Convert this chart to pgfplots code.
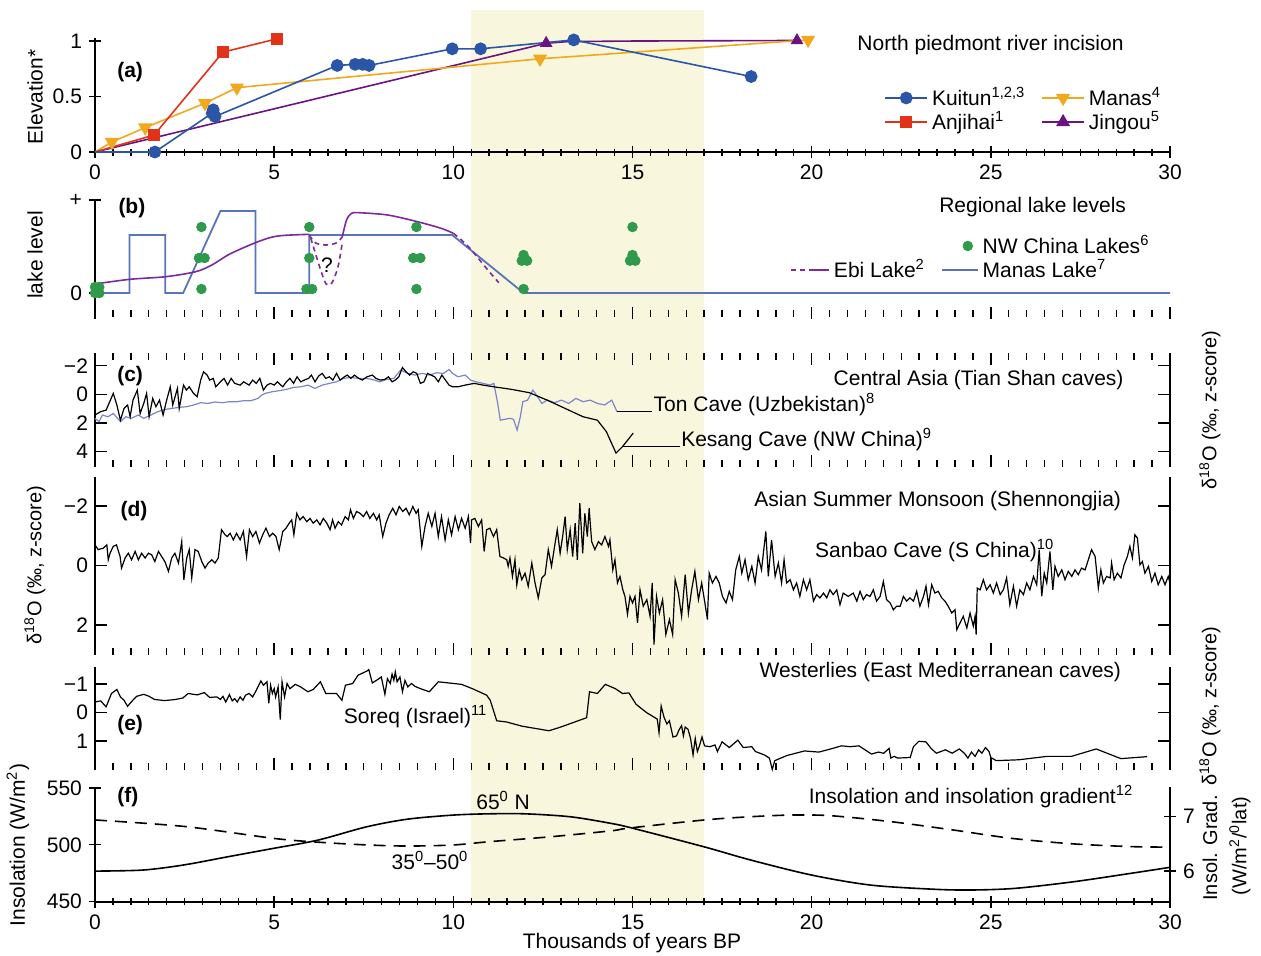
\documentclass[border=0pt]{standalone}
\usepackage{fontspec}
\setmainfont{Liberation Sans}
\usepackage{pgfplots}
\pgfplotsset{compat=1.18}
\definecolor{kuitun}{HTML}{2B56A8}
\definecolor{anjihai}{HTML}{E2321A}
\definecolor{manas}{HTML}{F2A81D}
\definecolor{jingou}{HTML}{6A1381}
\definecolor{manaslake}{HTML}{5874BD}
\definecolor{ebi}{HTML}{7B2B9D}
\definecolor{nwgreen}{HTML}{2F9A4C}
\definecolor{ton}{HTML}{7A86C9}
\definecolor{shade}{HTML}{F8F7DD}
\newcommand{\lab}{\fontsize{10.5}{12}\selectfont}
\newcommand{\rlab}{\fontsize{10}{12}\selectfont}
\pgfplotsset{
  panel/.style={
    scale only axis, width=537.5pt, xmin=0, xmax=30, clip=false, anchor=south west,
    axis line style={line width=0.9pt,-},
    tick align=inside, major tick length=6pt, minor tick length=3.5pt,
    tick style={line width=0.7pt, black},
    xtick={0,5,...,30}, minor x tick num=9,
    ticklabel style={font=\lab},
    /pgf/number format/assume math mode=true,
  },
  noarrows/.style={
    every outer x axis line/.append style={-}, every outer y axis line/.append style={-},
    every inner x axis line/.append style={-}, every inner y axis line/.append style={-}},
  boxpanel/.style={panel, separate axis lines, x axis line style={draw=none},
    ytick pos=both, yticklabel pos=left, xticklabels={}, y dir=reverse},
  dotlegend/.style={legend image code/.code={\draw[##1] plot coordinates {(13pt,0pt)};}},
  ebilegend/.style={legend image code/.code={\draw[##1, dash pattern=on 2.5pt off 2pt] (0pt,0pt) -- (10pt,0pt); \draw[##1] (10pt,0pt) -- (19pt,0pt);}},
}
\begin{document}
\begin{tikzpicture}
\useasboundingbox (0,0) rectangle (630.5pt,-477.5pt);
% background band
\begin{axis}[scale only axis, width=537.5pt, height=445.85pt, at={(47.5pt,-450.85pt)}, anchor=south west,
  xmin=0, xmax=30, ymin=0, ymax=1, axis lines=none, clip=false]
\addplot[fill=shade, draw=none] coordinates {(10.5,1) (17,1)} \closedcycle;
\end{axis}
% ---------- (a)
\begin{axis}[panel, at={(47.5pt,-76pt)}, height=57.15pt, ymin=0, ymax=1.03,
  axis x line=bottom, axis y line=left, ytick={0,0.5,1}, yticklabels={0,0.5,1},
  legend columns=2,
  legend style={at={(0.734,0.604)}, anchor=north west, draw=none, fill=none, inner sep=0pt, font=\lab,
    row sep=-2.5pt, /tikz/every even column/.append style={column sep=6pt}, legend cell align=left},
  legend image code/.code={\draw[#1] (0pt,0pt) -- (21pt,0pt); \draw[#1,mark repeat=1,mark phase=1] plot coordinates {(10.5pt,0pt)};},
  noarrows,
]
\addplot[jingou, line width=0.8pt, forget plot] coordinates {(0,0)(12.59,0.98)(13.2,0.995)(15,1.0)(19.59,1.005)};
\addplot[jingou, only marks, mark=triangle*, mark size=3.3pt, forget plot] coordinates {(12.59,0.98)(19.59,1.005)};
\addplot[manas, line width=0.8pt, mark=triangle*, mark size=3.3pt, mark options={rotate=180}, mark phase=2, mark repeat=1, forget plot] coordinates {(0,0)(0.47,0.09)(1.4,0.22)(3.07,0.44)(3.96,0.58)(12.42,0.84)(19.9,1.01)};
\addplot[anjihai, line width=0.8pt, mark=square*, mark size=2.5pt, mark phase=2, mark repeat=1, forget plot] coordinates {(0,0)(1.65,0.153)(3.57,0.9)(5.08,1.02)};
\addplot[kuitun, line width=0.8pt, mark=*, mark size=2.8pt, mark phase=2, mark repeat=1, forget plot] coordinates {(0,0)(1.67,0.0)(3.27,0.35)(3.3,0.38)(3.35,0.32)(6.76,0.78)(7.26,0.79)(7.47,0.79)(7.65,0.78)(9.97,0.93)(10.76,0.93)(13.36,1.01)(18.31,0.68)};
\addlegendimage{kuitun, line width=0.8pt, mark=*, mark size=2.8pt}\addlegendentry{Kuitun\textsuperscript{1,2,3}}
\addlegendimage{manas, line width=0.8pt, mark=triangle*, mark size=3.3pt, mark options={rotate=180}}\addlegendentry{Manas\textsuperscript{4}}
\addlegendimage{anjihai, line width=0.8pt, mark=square*, mark size=2.5pt}\addlegendentry{Anjihai\textsuperscript{1}}
\addlegendimage{jingou, line width=0.8pt, mark=triangle*, mark size=3.3pt}\addlegendentry{Jingou\textsuperscript{5}}
\node[font=\lab, anchor=east] at (axis cs:28.9,0.965) {North piedmont river incision};
\node[font=\lab\bfseries] at (axis cs:0.98,0.72) {(a)};
\end{axis}
% ---------- (b)
\begin{axis}[panel, at={(47.5pt,-156.5pt)}, height=56.5pt, ymin=-20, ymax=93,
  axis x line=bottom, axis y line=left, x axis line style={draw=none}, xticklabels={},
  ytick={0,93}, yticklabels={0,+},
  legend columns=2,
  legend style={at={(0.6465,0.726)}, anchor=north west, draw=none, fill=none, inner sep=0pt, font=\lab,
    row sep=-2.5pt, /tikz/every even column/.append style={column sep=6pt}, legend cell align=left},
  legend image code/.code={\draw[#1] (0pt,0pt) -- (18pt,0pt);},
  noarrows,
]
\addplot[manaslake, line width=0.9pt, forget plot] coordinates {(0,0)(0.96,0)(0.96,58)(1.96,58)(1.96,0)(2.46,0)(3.5,82)(4.48,82)(4.48,0)(5.98,0)(5.98,58)(9.97,58)(11.96,0)(30,0)};
\addplot[ebi, line width=0.8pt, smooth, forget plot] coordinates {(0,9)(0.97,13.7)(1.97,16.3)(2.81,21.3)(3.26,28)(3.71,38)(4.17,45.7)(4.6,52)(4.95,56)(5.31,57.7)(5.98,58.7)};
\addplot[ebi, line width=0.8pt, dash pattern=on 2.5pt off 2pt, smooth, forget plot] coordinates {(5.98,58)(6.16,50)(6.45,48)(6.73,50)(6.9,56)};
\addplot[ebi, line width=0.8pt, dash pattern=on 2.5pt off 2pt, smooth, forget plot] coordinates {(6.02,55)(6.27,26)(6.45,9)(6.61,10)(6.78,26)(6.9,50)};
\addplot[ebi, line width=0.8pt, smooth, forget plot] coordinates {(6.9,56)(7.02,73)(7.16,79.7)(7.37,80.3)(8.17,78)(9.0,71.3)(9.66,64.7)(10.0,59.7)};
\addplot[ebi, line width=0.8pt, dash pattern=on 2.5pt off 2pt, forget plot] coordinates {(10.0,59.7)(10.18,54.7)(10.47,44.7)(10.81,29.7)(11.04,19.7)(11.27,10.3)};
\addplot[nwgreen, only marks, mark=*, mark size=2.4pt, forget plot] coordinates {
(0,6)(0.12,6)(0,0)(0.12,0)
(2.97,66)(2.9,35)(3.06,35)(2.97,4)
(5.98,66)(5.98,35)(5.9,4)(6.06,4)
(8.97,66)(8.88,35)(9.08,35)(8.97,4)
(11.96,4)(11.96,38)(11.91,32.3)(12.06,32.3)
(15.0,66)(15.0,38)(14.93,32.3)(15.08,32.3)};
\node[font=\lab] at (axis cs:6.47,28) {?};
\addlegendimage{empty legend}\addlegendentry{}
\addlegendimage{nwgreen, only marks, mark=*, mark size=2.4pt, dotlegend}\addlegendentry{NW China Lakes\textsuperscript{6}}
\addlegendimage{ebi, line width=0.8pt, ebilegend}\addlegendentry{Ebi Lake\textsuperscript{2}}
\addlegendimage{manaslake, line width=0.9pt}\addlegendentry{Manas Lake\textsuperscript{7}}
\node[font=\lab, anchor=east] at (axis cs:28.97,86) {Regional lake levels};
\node[font=\lab\bfseries] at (axis cs:1.03,85) {(b)};
\end{axis}
% ---------- (c)
\begin{axis}[boxpanel, xtick pos=both, at={(47.5pt,-233.35pt)}, height=56.7pt, ymin=-2.87, ymax=5.05,
  ytick={-2,0,2,4}, yticklabels={−2,0,2,4}]
\addplot[ton, line width=0.6pt] coordinates {
(0.00,1.67)(0.11,1.9)(0.21,1.44)(0.36,1.56)(0.51,1.33)(0.71,1.9)(0.86,1.56)(1.01,1.67)(1.21,1.44)(1.36,1.67)(1.56,1.44)(1.75,1.21)(1.95,1.05)(2.15,0.98)(2.35,0.9)(2.55,0.86)(2.75,0.74)(2.95,0.58)(3.15,0.63)(3.35,0.53)(3.55,0.58)(3.75,0.51)(3.95,0.51)(4.15,0.44)(4.35,0.44)(4.55,0.28)(4.65,0.05)(4.75,-0.07)(4.95,-0.19)(5.14,-0.26)(5.34,-0.35)(5.54,-0.49)(5.74,-0.53)(5.94,-0.65)(6.14,-0.42)(6.34,-0.65)(6.54,-0.77)(6.74,-0.88)(6.94,-1.12)(7.14,-1.19)(7.34,-1.12)(7.54,-1.12)(7.74,-1.05)(7.94,-0.88)(8.14,-1.05)(8.34,-1.12)(8.53,-1.7)(8.73,-1.47)(8.93,-1.35)(9.13,-1.47)(9.33,-1.35)(9.53,-1.51)(9.73,-1.47)(9.88,-1.74)(9.98,-1.47)(10.13,-1.23)(10.33,-1.35)(10.48,-1.0)(10.63,-0.88)(10.83,-0.77)(11.03,-0.65)(11.13,-0.77)(11.23,0.51)(11.31,1.8)(11.43,1.74)(11.58,1.67)(11.68,1.74)(11.78,2.49)(11.87,1.56)(11.94,0.51)(12.07,0.4)(12.22,-0.3)(12.32,0.05)(12.47,0.63)(12.62,0.4)(12.82,0.58)(13.02,0.4)(13.22,0.63)(13.42,0.28)(13.62,0.51)(13.82,0.4)(14.02,0.63)(14.22,0.74)(14.42,0.4)(14.57,1.21)};
\addplot[black, line width=0.6pt] coordinates {
(0.00,1.44)(0.16,1.2)(0.31,1.1)(0.51,-0.07)(0.61,0.74)(0.71,1.8)(0.81,0.98)(0.91,0.74)(0.98,1.56)(1.06,0.4)(1.18,-0.3)(1.26,1.33)(1.36,0.63)(1.44,-0.07)(1.51,1.56)(1.61,0.28)(1.70,0.86)(1.80,0.4)(1.90,1.44)(2.00,0.4)(2.10,-0.53)(2.17,0.74)(2.30,-0.42)(2.35,0.98)(2.47,-0.65)(2.55,-0.3)(2.63,-0.53)(2.75,-0.07)(2.85,0.16)(2.95,-1.0)(3.03,-1.58)(3.13,-1.35)(3.20,-1.0)(3.30,-1.12)(3.37,-0.53)(3.50,-0.88)(3.60,-1.12)(3.70,-0.65)(3.80,-1.12)(3.90,-0.77)(4.05,-0.65)(4.15,-0.88)(4.30,-0.65)(4.40,-1.0)(4.50,-0.77)(4.60,-1.12)(4.70,-0.3)(4.80,-0.65)(4.90,-0.77)(5.00,-0.65)(5.09,-0.88)(5.24,-0.53)(5.34,-0.88)(5.44,-1.12)(5.54,-0.77)(5.64,-1.23)(5.74,-0.88)(5.84,-1.0)(5.96,-1.12)(6.04,-1.35)(6.14,-0.88)(6.24,-1.28)(6.34,-1.47)(6.44,-1.12)(6.54,-1.23)(6.64,-1.0)(6.74,-1.47)(6.84,-1.0)(6.96,-1.23)(7.04,-1.35)(7.14,-1.12)(7.24,-1.35)(7.36,-1.12)(7.46,-1.0)(7.59,-1.23)(7.74,-1.35)(7.84,-1.12)(7.96,-1.0)(8.09,-1.05)(8.19,-1.23)(8.29,-0.88)(8.38,-1.0)(8.48,-1.23)(8.58,-1.88)(8.68,-1.58)(8.78,-1.35)(8.88,-1.58)(8.98,-1.47)(9.08,-0.77)(9.18,-0.88)(9.28,-1.47)(9.38,-1.35)(9.48,-1.23)(9.58,-0.88)(9.68,-1.35)(9.78,-1.0)(9.88,-0.65)(9.98,-0.53)(10.13,-0.53)(10.33,-0.65)(10.58,-0.77)(10.83,-0.65)(11.13,-0.53)(11.63,-0.35)(12.12,-0.12)(12.62,0.4)(13.12,0.98)(13.62,1.56)(14.02,1.8)(14.27,2.6)(14.54,4.1)(14.72,3.65)(15.02,2.7)};
\draw[line width=0.6pt] (axis cs:14.57,1.21) -- (axis cs:15.55,1.21);
\draw[line width=0.6pt] (axis cs:14.72,3.65) -- (axis cs:16.33,3.65);
\node[font=\lab, anchor=base west, inner sep=0pt] at (axis cs:15.58,1.21) {Ton Cave (Uzbekistan)\textsuperscript{8}};
\node[font=\lab, anchor=base west, inner sep=0pt] at (axis cs:16.35,3.65) {Kesang Cave (NW China)\textsuperscript{9}};
\node[font=\lab, anchor=east] at (axis cs:28.9,-1.0) {Central Asia (Tian Shan caves)};
\node[font=\lab\bfseries] at (axis cs:0.98,-1.28) {(c)};
\end{axis}
% ---------- (d)
\begin{axis}[boxpanel, xtick pos=left, at={(47.5pt,-327.5pt)}, height=89.15pt, ymin=-2.98, ymax=3.01,
  ytick={-2,0,2}, yticklabels={−2,0,2}]
\addplot[black, line width=0.6pt] coordinates {
(0.00,-0.69)(0.09,-0.53)(0.23,-0.58)(0.33,-0.69)(0.37,-0.19)(0.42,-0.41)(0.51,-0.64)(0.60,-0.69)(0.70,-0.30)(0.74,0.09)(0.84,-0.25)(0.93,-0.41)(1.02,-0.19)(1.12,-0.47)(1.21,-0.19)(1.30,-0.41)(1.40,-0.25)(1.49,-0.41)(1.58,-0.36)(1.67,-0.13)(1.77,-0.47)(1.86,-0.30)(1.95,-0.13)(2.05,0.20)(2.14,-0.25)(2.23,-0.41)(2.33,-0.08)(2.42,-0.80)(2.48,0.48)(2.56,-0.25)(2.63,-0.53)(2.70,0.42)(2.79,-0.53)(2.88,-0.47)(2.98,-0.13)(3.07,0.09)(3.16,-0.08)(3.26,-0.19)(3.35,-0.08)(3.44,-0.25)(3.53,-1.20)(3.63,-1.03)(3.69,-0.97)(3.77,-1.08)(3.86,-0.86)(3.95,-1.08)(4.05,-0.86)(4.14,-1.14)(4.23,-0.30)(4.31,-1.20)(4.40,-0.97)(4.49,-1.14)(4.59,-0.75)(4.68,-1.03)(4.77,-1.25)(4.87,-0.97)(4.96,-1.08)(5.05,-0.97)(5.14,-0.53)(5.24,-1.14)(5.33,-1.25)(5.42,-1.42)(5.49,-1.53)(5.55,-1.03)(5.63,-1.75)(5.72,-1.53)(5.81,-1.64)(5.91,-1.47)(6.00,-1.58)(6.09,-1.42)(6.19,-1.53)(6.28,-1.36)(6.37,-1.58)(6.47,-1.42)(6.56,-1.20)(6.63,-1.53)(6.70,-1.25)(6.79,-1.47)(6.88,-1.36)(6.98,-1.64)(7.07,-1.53)(7.13,-1.87)(7.21,-1.58)(7.30,-1.81)(7.40,-1.75)(7.49,-1.64)(7.58,-1.81)(7.67,-1.58)(7.77,-1.75)(7.86,-1.53)(7.93,-1.70)(8.03,-0.97)(8.12,-1.42)(8.21,-1.70)(8.31,-1.92)(8.40,-1.70)(8.49,-1.98)(8.59,-1.81)(8.68,-1.92)(8.77,-1.70)(8.87,-1.98)(8.96,-1.75)(9.02,-1.87)(9.12,-0.64)(9.21,-1.31)(9.30,-1.75)(9.40,-1.31)(9.49,-1.75)(9.58,-0.97)(9.67,-1.64)(9.77,-0.86)(9.86,-1.53)(9.95,-1.03)(10.05,-1.64)(10.14,-1.20)(10.23,-1.58)(10.33,-1.25)(10.42,-1.64)(10.48,-0.75)
(10.51,-1.53)(10.60,-1.58)(10.70,-1.31)(10.79,-1.53)(10.86,-0.47)(10.93,-1.20)(11.02,-1.25)(11.12,-0.97)(11.21,-1.20)(11.30,-0.30)(11.40,-0.25)(11.49,-0.19)(11.53,0.03)(11.58,-0.25)(11.65,0.37)(11.72,-0.19)(11.77,0.65)(11.84,0.15)(11.91,0.48)(12.00,0.26)(12.09,0.70)(12.19,-0.08)(12.28,0.59)(12.37,1.09)(12.47,0.42)(12.56,0.31)(12.65,-0.53)(12.74,0.03)(12.84,-0.75)(12.90,-1.20)(12.98,-0.41)(13.05,-0.97)(13.12,-1.64)(13.18,-0.53)(13.26,-1.20)(13.33,-0.30)(13.40,-1.42)(13.46,-0.19)(13.53,-2.09)(13.61,-0.41)(13.67,-1.75)(13.74,-0.97)(13.79,-1.92)(13.86,-0.80)(13.95,-0.53)(14.05,-0.80)(14.14,-0.69)(14.23,-0.97)(14.33,-0.64)(14.37,-0.86)(14.45,0.15)(14.51,-0.19)(14.58,0.59)(14.65,0.37)(14.73,0.82)(14.79,1.04)(14.86,1.64)(14.93,1.04)(15.00,1.26)(15.07,1.04)(15.14,1.93)(15.21,0.82)(15.30,1.37)(15.40,1.15)(15.49,1.71)(15.55,0.59)(15.60,2.66)(15.67,1.04)(15.75,1.60)(15.84,1.15)(15.93,2.32)(16.03,1.82)(16.12,2.32)(16.19,0.48)(16.28,0.93)(16.37,1.71)(16.47,0.31)(16.56,1.60)(16.65,0.82)(16.74,0.20)(16.84,1.15)(16.93,0.59)(17.02,1.26)(17.09,1.82)(17.14,0.26)(17.23,0.59)(17.33,0.37)(17.42,0.59)(17.51,1.04)(17.61,1.26)(17.70,0.87)(17.79,1.15)(17.88,0.15)(17.98,-0.30)(18.05,0.26)(18.14,-0.19)(18.23,0.48)(18.33,0.03)(18.42,0.59)(18.51,-0.30)(18.60,0.15)(18.72,-1.14)(18.79,0.37)(18.88,-0.86)(18.98,0.37)(19.07,-0.08)(19.16,0.59)(19.23,-0.19)(19.30,0.59)(19.40,0.48)(19.49,0.82)(19.58,0.59)(19.67,1.04)(19.77,0.48)(19.86,0.82)(19.95,0.48)(20.05,1.20)(20.14,0.98)(20.23,1.09)(20.33,0.93)(20.42,1.09)(20.51,0.82)(20.60,0.98)(20.70,0.82)(20.79,1.32)(20.88,0.93)(21.02,1.04)
(21.16,0.93)(21.26,1.20)(21.35,0.87)(21.44,1.15)(21.53,0.98)(21.63,1.04)(21.72,0.82)(21.81,1.20)(21.91,1.04)(22.00,0.54)(22.09,1.15)(22.19,1.26)(22.28,1.49)(22.37,1.37)(22.47,1.37)(22.56,1.04)(22.65,1.20)(22.74,1.09)(22.84,1.20)(22.93,0.87)(23.02,1.37)(23.12,1.04)(23.19,0.70)(23.26,1.32)(23.35,0.65)(23.44,0.93)(23.53,0.87)(23.63,1.09)(23.72,1.20)(23.81,1.37)(23.91,1.60)(24.00,1.49)(24.05,2.16)(24.14,1.93)(24.23,1.71)(24.33,2.10)(24.42,1.60)(24.51,2.04)(24.56,1.71)(24.59,2.32)(24.62,0.76)(24.70,0.82)(24.79,0.48)(24.88,0.82)(24.98,0.65)(25.07,0.93)(25.16,0.59)(25.26,0.98)(25.35,0.82)(25.44,0.42)(25.53,1.32)(25.63,0.70)(25.72,1.37)(25.81,0.82)(25.91,0.98)(26.00,0.59)(26.09,0.82)(26.19,0.37)(26.28,0.65)(26.35,-0.53)(26.42,1.04)(26.49,0.26)(26.56,0.59)(26.65,-0.47)(26.73,0.82)(26.79,0.03)(26.88,0.37)(26.98,0.15)(27.07,0.48)(27.16,0.20)(27.26,0.37)(27.35,0.15)(27.44,0.31)(27.53,0.09)(27.63,0.15)(27.72,-0.19)(27.81,-0.53)(27.91,-0.30)(28.00,0.76)(28.07,0.15)(28.14,0.59)(28.23,0.37)(28.33,0.42)(28.37,-0.08)(28.44,0.48)(28.53,0.26)(28.63,0.42)(28.72,-0.02)(28.81,-0.30)(28.88,-0.64)(28.95,-0.25)(29.02,-1.03)(29.09,-0.92)(29.16,-0.02)(29.23,-0.13)(29.30,0.26)(29.40,0.03)(29.49,0.54)(29.58,0.26)(29.67,0.65)(29.77,0.37)(29.86,0.65)(29.95,0.37)(30.00,0.59)};
\node[font=\lab, anchor=east] at (axis cs:28.83,-2.15) {Asian Summer Monsoon (Shennongjia)};
\node[font=\lab, anchor=west] at (axis cs:19.9,-0.5) {Sanbao Cave (S China)\textsuperscript{10}};
\node[font=\lab\bfseries] at (axis cs:1.09,-1.81) {(d)};
\end{axis}
% ---------- (e)
\begin{axis}[boxpanel, xtick pos=left, at={(47.5pt,-385pt)}, height=51.65pt, ymin=-1.61, ymax=2.02,
  ytick={-1,0,1}, yticklabels={−1,0,1}]
\addplot[black, line width=0.6pt] coordinates {
(0.00,-0.37)(0.16,-0.41)(0.31,-0.20)(0.46,-0.67)(0.61,-0.81)(0.71,-0.55)(0.81,-0.43)(0.91,-0.22)(1.01,-0.37)(1.16,-0.57)(1.36,-0.64)(1.51,-0.57)(1.66,-0.46)(1.95,-0.42)(2.25,-0.46)(2.45,-0.51)(2.60,-0.67)(2.85,-0.62)(3.05,-0.70)(3.20,-0.53)(3.40,-0.55)(3.50,-0.46)(3.57,-0.57)(3.65,-0.37)(3.75,-0.63)(3.83,-0.41)(3.90,-0.49)(3.97,-0.37)(4.05,-0.55)(4.13,-0.43)(4.20,-0.61)(4.30,-0.67)(4.40,-0.55)(4.50,-0.78)(4.63,-1.11)(4.70,-0.96)(4.80,-1.08)(4.85,-0.32)(4.90,-0.96)(4.95,-0.67)(5.00,-0.84)(5.04,-0.55)(5.11,-0.90)(5.17,0.25)(5.22,-1.08)(5.29,-0.55)(5.36,-1.02)(5.44,-0.84)(5.59,-0.99)(5.74,-0.90)(5.94,-0.73)(6.09,-0.81)(6.29,-1.08)(6.44,-0.67)(6.74,-0.67)(6.89,-0.43)(6.99,-0.96)(7.19,-1.02)(7.34,-1.31)(7.59,-1.46)(7.64,-1.51)(7.74,-1.04)(7.89,-1.16)(7.99,-1.25)(8.09,-0.64)(8.16,-1.19)(8.24,-1.02)(8.29,-1.35)(8.34,-1.13)(8.38,-1.43)(8.43,-1.08)(8.51,-1.25)(8.58,-0.73)(8.65,-1.13)(8.73,-0.90)(8.83,-1.02)(8.93,-0.92)(9.08,-0.84)(9.33,-0.73)(9.58,-1.08)(10.23,-0.99)(10.53,-0.84)(10.93,-0.61)(11.03,-0.43)(11.21,0.29)(11.48,0.33)(11.92,0.48)(12.67,0.64)(13.02,0.50)(13.72,0.18)(13.80,-0.73)(14.02,-0.67)(14.24,-0.99)(14.52,-0.84)(14.72,-0.67)(14.90,-0.69)(15.10,-0.29)(15.39,0.00)(15.69,0.23)(15.74,0.71)(15.80,-0.23)(15.88,0.17)(15.96,0.40)(16.03,0.29)(16.13,0.86)(16.23,0.82)(16.29,0.63)(16.37,0.46)(16.42,0.82)(16.47,0.51)(16.55,0.59)(16.62,0.91)(16.69,1.49)(16.75,0.91)(16.81,1.37)(16.86,1.20)(16.94,0.86)(17.01,1.17)(17.16,1.20)(17.30,1.14)(17.37,1.37)(17.50,1.03)(17.70,1.23)(17.94,0.97)(18.09,1.23)(18.33,1.20)(18.43,1.37)(18.68,1.49)(18.82,1.60)(18.90,2.00)(18.97,1.69)(19.31,1.51)(19.80,1.35)(20.20,1.39)(20.59,1.26)(20.83,1.17)(21.08,1.20)(21.32,1.17)(21.67,1.46)(21.86,1.39)(22.01,1.43)(22.16,1.26)(22.21,1.60)(22.30,1.54)(22.40,1.60)(22.75,1.58)(22.84,1.20)(22.99,1.01)(23.19,1.03)(23.33,1.26)(23.48,1.43)(23.73,1.31)(23.92,1.43)(24.12,1.28)(24.26,1.43)(24.36,1.60)(24.46,1.39)(24.56,1.54)(24.66,1.31)(24.75,1.43)(24.85,1.23)(24.95,1.37)(25.00,1.58)(25.15,1.69)(25.78,1.66)(26.57,1.54)(27.25,1.54)(27.94,1.28)(28.63,1.62)(29.36,1.55)};
\node[font=\lab, anchor=east] at (axis cs:28.83,-1.41) {Westerlies (East Mediterranean caves)};
\node[font=\lab, anchor=west] at (axis cs:6.75,0.16) {Soreq (Israel)\textsuperscript{11}};
\node[font=\lab\bfseries] at (axis cs:0.98,0.45) {(e)};
\end{axis}
% ---------- (f)
\begin{axis}[panel, at={(47.5pt,-450.85pt)}, height=57.5pt, ymin=450, ymax=551,
  axis x line=bottom, axis y line=left, ytick={450,500,550}, noarrows]
\addplot[black, line width=0.8pt, smooth] coordinates {(0,476.9)(1.33,477.8)(2.46,482.2)(3.71,489.5)(4.97,496.8)(6.22,504.1)(7.58,515.8)(8.72,522.5)(10,526.1)(10.99,527.2)(12.0,527.2)(13.27,524.6)(14.4,518.8)(15.0,514.6)(17.0,498.2)(18.3,486.6)(20,473.4)(21.65,464.6)(23.45,460.9)(24.5,460.3)(25.7,461.8)(27.3,467.5)(28.9,474.9)(30,480.2)};
\node[font=\lab, anchor=east] at (axis cs:29.17,542.7) {Insolation and insolation gradient\textsuperscript{12}};
\node[font=\lab] at (axis cs:11.39,539) {65\textsuperscript{0} N};
\node[font=\lab] at (axis cs:9.35,486.6) {35\textsuperscript{0}–50\textsuperscript{0}};
\node[font=\lab\bfseries] at (axis cs:0.92,541.9) {(f)};
\end{axis}
\begin{axis}[panel, at={(47.5pt,-450.85pt)}, height=57.5pt, ymin=5.435, ymax=7.552,
  axis x line=none, axis y line=right, ytick={6,7}, noarrows]
\addplot[black, line width=0.8pt, smooth, dash pattern=on 6pt off 4pt] coordinates {(0,6.94)(2.5,6.82)(5,6.60)(6.25,6.53)(7.6,6.48)(8.75,6.46)(10,6.48)(11,6.54)(12.7,6.63)(14.4,6.74)(14.9,6.79)(17,6.94)(18.3,7.0)(19.4,7.03)(20.5,7.02)(22.2,6.91)(23.9,6.76)(25.6,6.60)(27.3,6.50)(28.9,6.45)(30,6.44)};
\end{axis}
% outer labels
\node[font=\lab, rotate=90] at (17.5pt,-48.5pt) {Elevation*};
\node[font=\lab, rotate=90] at (17.5pt,-127.5pt) {lake level};
\node[font=\rlab, rotate=90] at (17.5pt,-282.5pt) {δ\textsuperscript{18}O (‰, z-score)};
\node[font=\lab, rotate=90] at (9pt,-422.5pt) {Insolation (W/m\textsuperscript{2})};
\node[font=\rlab, rotate=90] at (605pt,-205pt) {δ\textsuperscript{18}O (‰, z-score)};
\node[font=\rlab, rotate=90] at (605pt,-353pt) {δ\textsuperscript{18}O (‰, z-score)};
\node[font=\rlab, rotate=90] at (605pt,-424pt) {Insol. Grad.};
\node[font=\rlab, rotate=90] at (620pt,-423pt) {(W/m\textsuperscript{2}/\textsuperscript{0}lat)};
\node[font=\lab] at (316pt,-471.5pt) {Thousands of years BP};
\end{tikzpicture}
\end{document}
